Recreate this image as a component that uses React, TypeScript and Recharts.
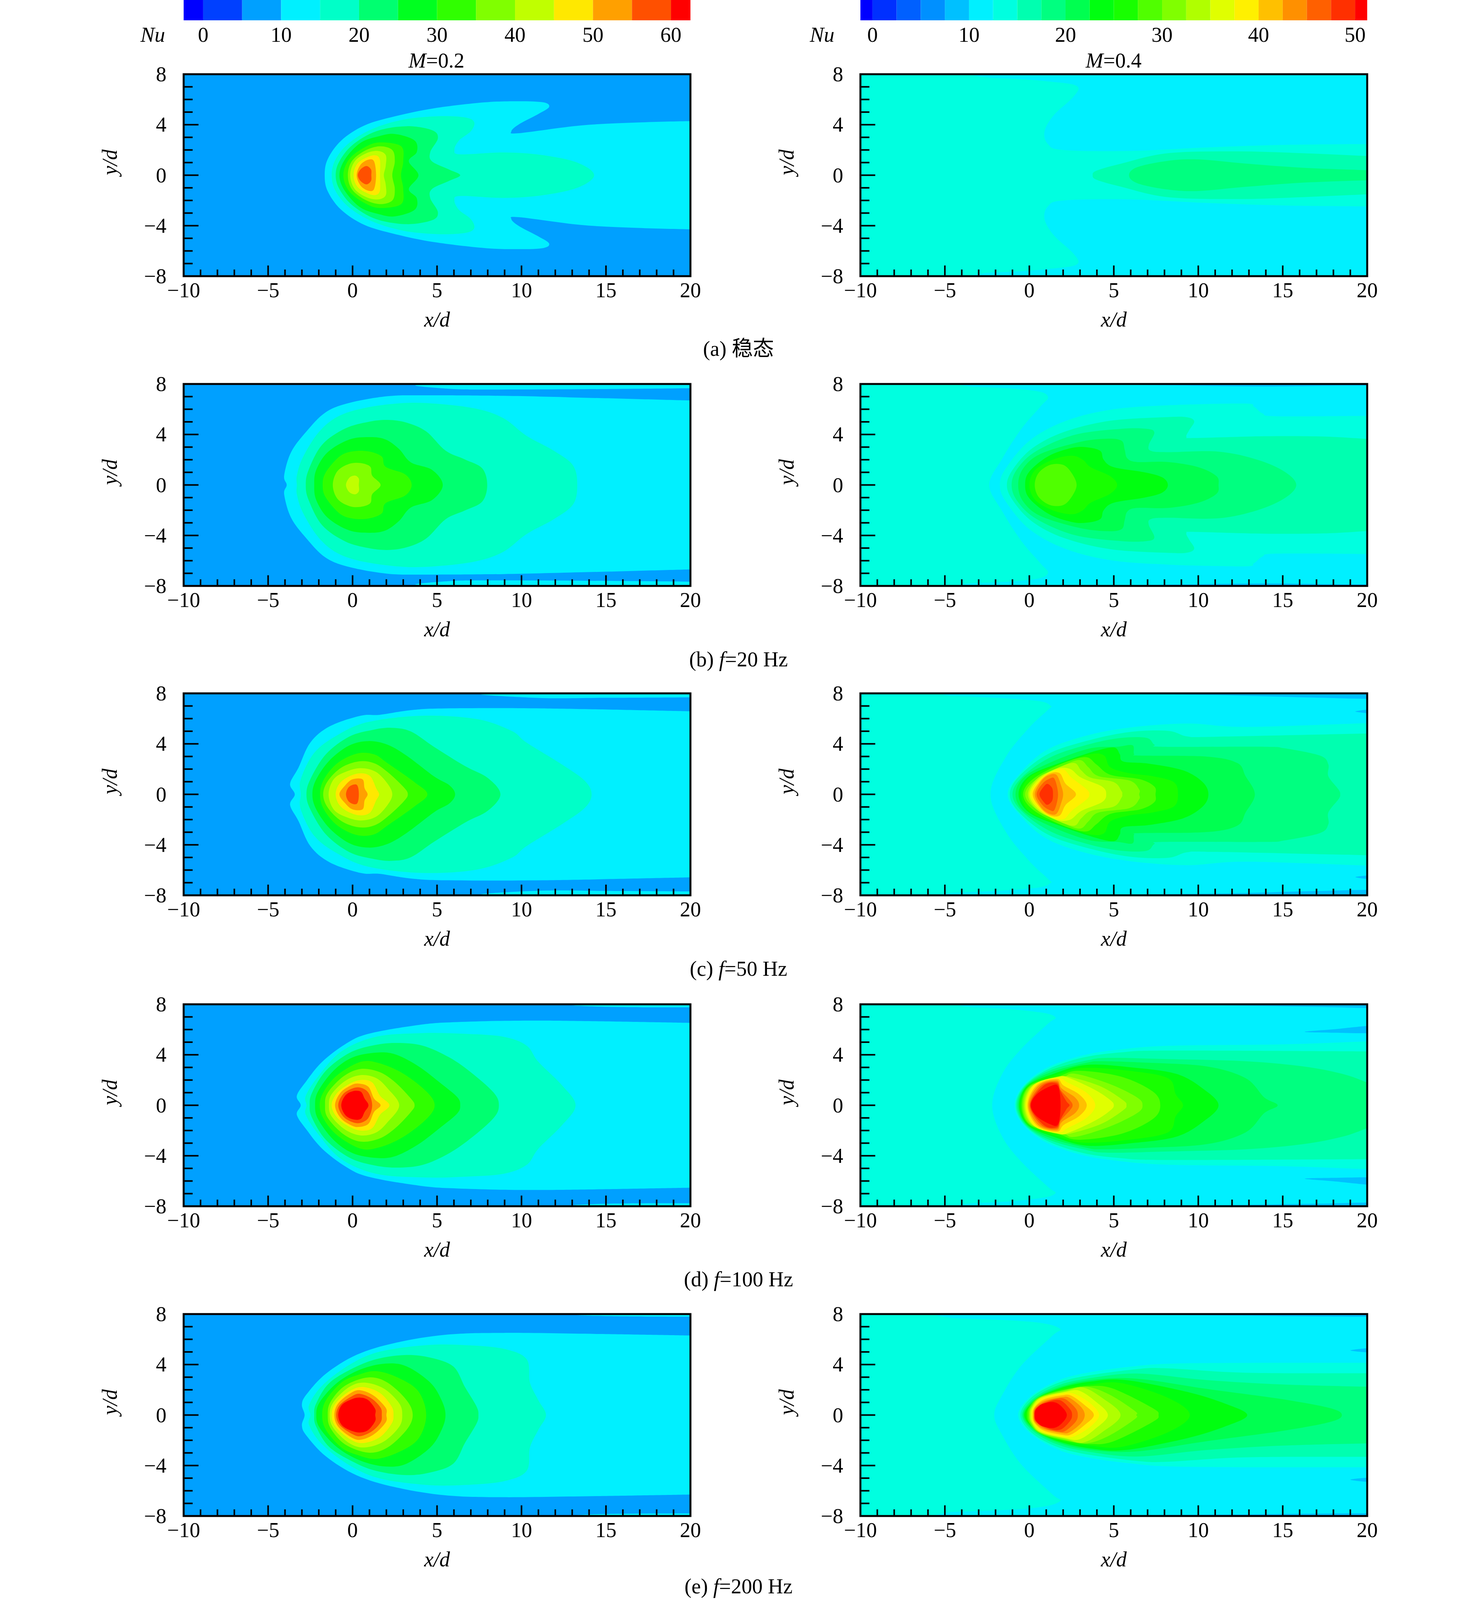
import React from 'react';
import { ScatterChart, Scatter, XAxis, YAxis, ReferenceArea, Label } from 'recharts';

type Pt = [number, number];
// band = index into the colour scale, upper = outline above y=0 (mirrored below), twin = separate pair of patches
interface Layer { band: number; upper: Pt[]; twin?: boolean }

const xTicks = [-10, -9, -8, -7, -6, -5, -4, -3, -2, -1, 0, 1, 2, 3, 4, 5, 6, 7, 8, 9, 10, 11, 12, 13, 14, 15, 16, 17, 18, 19, 20];
const yTicks = [-8, -7, -6, -5, -4, -3, -2, -1, 0, 1, 2, 3, 4, 5, 6, 7, 8];

const scaleLowEdges = [-2.5, 0, 5, 10, 15, 20, 25, 30, 35, 40, 45, 50, 55, 60, 62.5];
const scaleLowColors = ['#0000ff', '#0040ff', '#00a0ff', '#00f0ff', '#00ffc8', '#00ff70', '#00ff20', '#30ff00', '#80ff00', '#c0ff00', '#ffe800', '#ffa000', '#ff5000', '#ff0000'];
const scaleLowTicks = [0, 10, 20, 30, 40, 50, 60];

const scaleHighEdges = [-1.25, 0, 2.5, 5, 7.5, 10, 12.5, 15, 17.5, 20, 22.5, 25, 27.5, 30, 32.5, 35, 37.5, 40, 42.5, 45, 47.5, 50, 51.25];
const scaleHighColors = ['#0000ff', '#0030ff', '#0060ff', '#0090ff', '#00c0ff', '#00f0ff', '#00ffe0', '#00ffb0', '#00ff80', '#00ff50', '#00ff10', '#18ff00', '#50ff00', '#80ff00', '#b0ff00', '#e0ff00', '#fff000', '#ffc000', '#ff9000', '#ff6000', '#ff3000', '#ff0000'];
const scaleHighTicks = [0, 10, 20, 30, 40, 50];

const wholeField: Pt[] = [[-30, 30], [50, 30]];

const steadyLow: Layer[] = [
  { band: 2, upper: wholeField },
  { band: 3, upper: [[-1.65, 0], [-1.47, 1.28], [-0.67, 2.75], [0.7, 3.94], [2.53, 4.67], [4.82, 5.3], [7.8, 5.77], [9.85, 5.86], [11.3, 5.77], [11.63, 5.4], [11, 4.85], [9.85, 4.03], [9.4, 3.48], [9.85, 3.33], [13.5, 3.94], [16.9, 4.18], [20, 4.29], [21, 4.3]] },
  { band: 4, upper: [[-1.24, 0], [-1, 1.28], [-0.2, 2.56], [1.16, 3.66], [3, 4.4], [5.05, 4.67], [6.65, 4.58], [7.2, 4.2], [7, 3.48], [6.3, 2.75], [6.03, 2], [6.4, 1.65], [8.93, 1.8], [11.2, 1.6], [13.3, 1], [14.3, 0]] },
  { band: 5, upper: [[-1, 0], [-0.78, 1.1], [0, 2.4], [1.4, 3.48], [3.2, 3.88], [4.7, 3.57], [5.05, 2.93], [4.6, 1.83], [4.7, 1.1], [5.7, 0.46], [6.37, 0]] },
  { band: 6, upper: [[-0.78, 0], [-0.44, 1.28], [0.47, 2.56], [1.6, 3.1], [2.53, 3.26], [3.67, 2.75], [3.8, 1.83], [3.33, 1.1], [3.9, 0]] },
  { band: 7, upper: [[-0.55, 0], [-0.2, 1.28], [0.7, 2.2], [1.6, 2.6], [2.87, 2.3], [3, 1.1], [2.87, 0]] },
  { band: 8, upper: [[-0.28, 0], [-0.05, 1.1], [0.7, 1.92], [1.6, 2.29], [2.35, 2], [2.5, 1.1], [2.35, 0]] },
  { band: 9, upper: [[-0.14, 0], [0.13, 1.1], [0.82, 1.74], [1.5, 1.92], [1.96, 1.6], [1.96, 0.73], [1.85, 0]] },
  { band: 10, upper: [[0.06, 0], [0.29, 0.92], [0.93, 1.46], [1.39, 1.56], [1.62, 1.19], [1.62, 0]] },
  { band: 11, upper: [[0.24, 0], [0.47, 0.82], [0.93, 1.23], [1.27, 1.1], [1.39, 0]] },
  { band: 12, upper: [[0.31, 0], [0.47, 0.46], [0.82, 0.73], [1.09, 0.46], [1.11, 0]] },
];

const steadyHigh: Layer[] = [
  { band: 5, upper: wholeField },
  { band: 6, upper: [[-11, 7.9], [-2.1, 7.7], [1.35, 7.4], [2.83, 7.05], [2.6, 6.2], [1.45, 4.76], [0.9, 3.48], [1.1, 2.47], [2, 2], [5.9, 1.92], [10.5, 2.2], [15, 2.4], [20, 2.47], [21, 2.47]] },
  { band: 7, upper: [[3.75, 0], [4, 0.37], [5.45, 0.92], [8.2, 1.74], [12.3, 1.89], [16.2, 1.74], [20, 1.52], [21, 1.5]] },
  { band: 8, upper: [[5.9, 0], [6.4, 0.64], [8.2, 1.14], [10, 1.25], [12.8, 0.92], [16.2, 0.59], [20, 0.4], [21, 0.38]] },
];

const pulse20Low: Layer[] = [
  { band: 2, upper: wholeField },
  { band: 3, twin: true, upper: [[3.9, 7.92], [5.5, 7.64], [7.8, 7.56], [15, 7.6], [21, 7.7], [21, 7.92], [10, 7.94]] },
  { band: 3, upper: [[-3.9, 0], [-4.05, 0.74], [-3.64, 2.6], [-2.73, 4.24], [-1.6, 5.75], [-0.2, 6.5], [2.07, 7.03], [4.36, 7.1], [8.93, 7.06], [13.5, 6.92], [20, 6.69], [21, 6.68]] },
  { band: 4, upper: [[-3.3, 0], [-3.3, 0.74], [-2.96, 2.14], [-2.04, 4.12], [-0.9, 5.4], [0.7, 6.1], [3, 6.49], [5.05, 6.43], [7.33, 6.04], [8.93, 5.29], [10.3, 3.89], [11.9, 2.72], [13.05, 1.55], [13.3, 0]] },
  { band: 5, upper: [[-2.77, 0], [-2.6, 1.2], [-1.8, 3.19], [-0.44, 4.47], [0.94, 5], [2.07, 5.15], [3.2, 4.94], [4.36, 4.24], [5.5, 2.72], [6.65, 2.02], [7.67, 1.32], [7.97, 0]] },
  { band: 6, upper: [[-2.27, 0], [-2.15, 1.2], [-1.47, 2.6], [-0.2, 3.6], [1.05, 3.79], [1.96, 3.6], [2.76, 2.84], [3.45, 1.79], [4.7, 1.2], [5.34, 0]] },
  { band: 7, upper: [[-1.77, 0], [-1.6, 0.97], [-0.78, 2.25], [0, 2.66], [0.94, 2.66], [1.73, 2.25], [1.96, 1.44], [3.1, 0.85], [3.5, 0]] },
  { band: 8, upper: [[-1.17, 0], [-0.9, 1.09], [-0.2, 1.67], [0.48, 1.73], [1.05, 1.44], [1.16, 0.74], [1.66, 0]] },
  { band: 9, upper: [[-0.39, 0], [-0.2, 0.56], [0.14, 0.74], [0.37, 0.5], [0.37, 0]] },
];

const pulse20High: Layer[] = [
  { band: 5, upper: wholeField },
  { band: 4, twin: true, upper: [[6, 7.96], [10, 7.86], [14, 7.8], [18, 7.86], [21, 7.9], [21, 8.2], [6, 8.2]] },
  { band: 6, upper: [[-11, 7.95], [-3.2, 7.77], [0.2, 7.48], [1.1, 7], [0.65, 6.2], [-0.47, 4.45], [-1.6, 2.1], [-2.37, 0]] },
  { band: 6, upper: [[-1.74, 0], [-1.4, 1.3], [0, 3.5], [2.07, 5.03], [4.8, 5.96], [8.2, 6.31], [12.7, 6.45], [13.3, 6.2], [13.8, 5.67], [14.65, 5.44], [20, 5.47], [21, 5.47]] },
  { band: 7, upper: [[-1.33, 0], [-0.94, 1.3], [0.2, 2.93], [2.07, 4.21], [4.8, 5.09], [8.2, 5.38], [9.35, 5.36], [9.76, 5.03], [9.46, 4.33], [9.3, 3.8], [9.8, 3.72], [13.9, 3.86], [17.4, 3.84], [20, 3.65], [21, 3.6]] },
  { band: 8, upper: [[-1.05, 0], [-0.7, 1.3], [0.43, 2.7], [2.7, 3.98], [5.45, 4.45], [6.94, 4.45], [7.4, 4.15], [7.07, 3.16], [7.2, 2.7], [8.2, 2.6], [11.2, 2.64], [13.5, 2], [15.1, 1.06], [15.8, 0]] },
  { band: 9, upper: [[-0.66, 0], [-0.37, 1.3], [0.66, 2.46], [2.95, 3.4], [4.55, 3.66], [5.45, 3.51], [5.64, 2.81], [5.8, 2.11], [6.37, 1.82], [8.2, 1.82], [10, 1.41], [11.07, 0.71], [11.2, 0]] },
  { band: 10, upper: [[-0.25, 0], [0, 1.06], [1.14, 2.29], [2.5, 2.93], [3.4, 2.99], [4.2, 2.7], [4.4, 2], [5, 1.41], [6.83, 1], [7.87, 0.6], [8.2, 0]] },
  { band: 11, upper: [[0, 0], [0.34, 1.18], [1.37, 2], [2.5, 2.32], [3.17, 2], [3.63, 1.41], [4.77, 0.71], [5.2, 0]] },
  { band: 12, upper: [[0.32, 0], [0.55, 0.95], [1.23, 1.59], [2, 1.59], [2.5, 0.95], [2.8, 0]] },
];

const pulse50Low: Layer[] = [
  { band: 2, upper: wholeField },
  { band: 3, twin: true, upper: [[7.6, 7.92], [11.2, 7.63], [15, 7.65], [21, 7.72], [21, 7.92], [12, 7.94]] },
  { band: 3, upper: [[-3.42, 0], [-3.7, 0.84], [-3.2, 2.12], [-2.5, 4.1], [-1.35, 5.39], [0.48, 6.23], [1.6, 6.3], [3.45, 6.67], [5.5, 6.81], [11.2, 6.81], [20, 6.58], [21, 6.56]] },
  { band: 4, upper: [[-3.07, 0], [-3.07, 1.19], [-2.27, 3.29], [-0.9, 4.69], [0.94, 5.74], [4.13, 6.23], [7.33, 5.97], [9.4, 5.04], [10.3, 4.1], [12.4, 2.36], [13.75, 1.07], [14.15, 0]] },
  { band: 5, upper: [[-2.73, 0], [-2.5, 1.19], [-1.58, 3.17], [-0.2, 4.57], [1.17, 5.1], [2.3, 5.27], [3.45, 4.98], [4.82, 3.76], [6.65, 2.24], [8, 1.3], [8.75, 0]] },
  { band: 6, upper: [[-2.38, 0], [-2.15, 1.19], [-1.35, 2.71], [-0.2, 3.87], [0.94, 4.22], [2.07, 3.93], [3.2, 3.06], [4.82, 1.42], [5.73, 0.72], [6.07, 0]] },
  { band: 7, upper: [[-1.93, 0], [-1.7, 1.19], [-0.9, 2.47], [0.25, 3.23], [1.27, 3.17], [2.07, 2.47], [3.67, 0.96], [4.43, 0]] },
  { band: 8, upper: [[-1.74, 0], [-1.46, 1.07], [-0.66, 2.12], [0.36, 2.61], [1.27, 2.47], [2.07, 1.77], [3, 0.6], [3.27, 0]] },
  { band: 9, upper: [[-1.42, 0], [-1.12, 1.19], [-0.43, 1.77], [0.48, 2.07], [1.39, 1.77], [2.07, 0.84], [2.35, 0]] },
  { band: 10, upper: [[-1, 0], [-0.78, 0.84], [-0.2, 1.42], [0.48, 1.66], [1.05, 1.42], [1.39, 0.49], [1.57, 0]] },
  { band: 11, upper: [[-0.78, 0], [-0.43, 0.72], [0, 1.19], [0.59, 1.19], [0.71, 0.49], [0.89, 0]] },
  { band: 12, upper: [[-0.39, 0], [-0.2, 0.6], [0.25, 0.75], [0.37, 0]] },
];

const pulse50High: Layer[] = [
  { band: 5, upper: wholeField },
  { band: 4, twin: true, upper: [[6, 7.96], [12, 7.84], [17, 7.66], [21, 7.6], [21, 8.2], [6, 8.2]] },
  { band: 4, twin: true, upper: [[19.3, 6.55], [20.2, 6.7], [20.5, 6.4]] },
  { band: 6, upper: [[-11, 7.91], [-4.4, 7.79], [0.2, 7.44], [1.24, 7.04], [1.1, 6.69], [0, 5.29], [-1.4, 2.95], [-2.3, 0]] },
  { band: 6, upper: [[-1.28, 0], [-0.7, 1.44], [0.9, 3.42], [3.2, 4.59], [5.93, 5.29], [9.35, 5.61], [12.8, 5.34], [20, 5.64], [21, 5.66]] },
  { band: 7, upper: [[-1.16, 0], [-0.6, 1.44], [1.1, 3.19], [3.4, 4.24], [5.93, 4.94], [8.2, 5.03], [9.35, 4.59], [10.95, 4.56], [20, 4.82], [21, 4.84]] },
  { band: 8, upper: [[-1, 0], [-0.37, 1.44], [1.35, 3], [3.63, 4], [5.45, 4.47], [6.94, 4.47], [7.4, 3.94], [7.95, 3.77], [13.9, 3.77], [15.1, 3.65], [17.2, 3.07], [17.7, 2.37], [17.7, 1.44], [18.3, 0.39], [18.4, 0]] },
  { band: 9, upper: [[-0.82, 0], [-0.25, 1.44], [1.6, 2.72], [3.63, 3.65], [5.2, 3.77], [6.1, 3.89], [6.2, 3.19], [6.55, 3.07], [10.5, 2.99], [12.3, 2.49], [12.8, 1.44], [13.35, 0]] },
  { band: 10, upper: [[-0.64, 0], [-0.02, 1.44], [1.8, 2.49], [3.87, 3.42], [5, 3.71], [5.35, 3.19], [5.57, 2.6], [7.07, 2.43], [9.1, 1.9], [10.26, 0.97], [10.6, 0]] },
  { band: 11, upper: [[-0.48, 0], [0.09, 1.44], [2, 2.49], [3.63, 3.19], [4.43, 3.07], [4.8, 2.14], [5.93, 1.67], [7.3, 1.44], [8.55, 0.97], [8.8, 0]] },
  { band: 12, upper: [[-0.37, 0], [0.2, 1.2], [1.8, 2.37], [3.3, 2.95], [3.97, 2.37], [4.8, 1.55], [6.55, 1.2], [7.4, 0.62], [7.47, 0]] },
  { band: 13, upper: [[-0.25, 0], [0.32, 1.09], [1.8, 2.14], [2.95, 2.72], [3.5, 2.14], [4.1, 1.44], [5.93, 1.09], [6.5, 0.39], [6.5, 0]] },
  { band: 14, upper: [[-0.09, 0], [0.43, 1.2], [1.35, 1.9], [2.6, 2.49], [3.07, 1.9], [3.63, 1.32], [5, 0.97], [5.45, 0.27], [5.5, 0]] },
  { band: 15, upper: [[0, 0], [0.55, 1.2], [1.6, 2.02], [2.4, 2.02], [3.07, 1.32], [4.3, 0.62], [4.55, 0]] },
  { band: 16, upper: [[0.09, 0], [0.66, 1.2], [1.35, 1.79], [2.03, 1.96], [2.5, 1.32], [3.4, 0.39], [3.55, 0]] },
  { band: 17, upper: [[0.2, 0], [0.66, 1.09], [1.23, 1.67], [1.8, 1.67], [2.14, 0.85], [2.76, 0]] },
  { band: 18, upper: [[0.32, 0], [0.66, 0.97], [1.1, 1.49], [1.6, 1.55], [1.9, 0.62], [2, 0]] },
  { band: 19, upper: [[0.43, 0], [0.78, 0.85], [1.23, 1.26], [1.5, 1.2], [1.7, 0]] },
  { band: 20, upper: [[0.6, 0], [0.9, 0.68], [1.1, 0.82], [1.35, 0.5], [1.4, 0]] },
];

const pulse100Low: Layer[] = [
  { band: 2, upper: wholeField },
  { band: 3, twin: true, upper: [[13, 7.92], [15, 7.8], [18, 7.76], [21, 7.78], [21, 7.92], [16, 7.94]] },
  { band: 3, upper: [[-3.07, 0], [-3.3, 0.76], [-2.73, 1.93], [-1.8, 3.44], [-0.43, 4.84], [0.94, 5.66], [3.9, 6.36], [6.2, 6.59], [11.2, 6.71], [20, 6.53], [21, 6.5]] },
  { band: 4, upper: [[-2.73, 0], [-2.77, 0.76], [-2.04, 2.28], [-0.67, 4.26], [1.39, 5.43], [4.13, 5.72], [6.65, 5.66], [8.93, 5.43], [10.3, 4.73], [11, 3.44], [12.4, 1.58], [13.2, 0]] },
  { band: 5, upper: [[-2.54, 0], [-2.4, 0.99], [-1.58, 2.74], [-0.2, 4.14], [1.16, 4.73], [2.53, 4.94], [4.13, 4.73], [5.73, 3.79], [7.1, 2.51], [8.36, 0.99], [8.66, 0]] },
  { band: 6, upper: [[-2.22, 0], [-2.04, 1.11], [-1.13, 2.74], [0, 3.79], [1.39, 4.17], [2.53, 4.03], [3.9, 3.09], [5.27, 1.69], [6.2, 0.64], [6.37, 0]] },
  { band: 7, upper: [[-1.95, 0], [-1.7, 1.11], [-0.9, 2.39], [0.48, 3.44], [1.6, 3.33], [3, 2.51], [4.36, 1.11], [4.86, 0]] },
  { band: 8, upper: [[-1.63, 0], [-1.47, 0.99], [-0.55, 2.28], [0.48, 2.88], [1.6, 2.63], [2.53, 1.81], [3.45, 0.53], [3.67, 0]] },
  { band: 9, upper: [[-1.4, 0], [-1.24, 0.88], [-0.44, 1.93], [0.48, 2.39], [1.39, 2.16], [2.07, 1.34], [2.76, 0]] },
  { band: 10, upper: [[-1.24, 0], [-0.9, 0.99], [-0.2, 1.69], [0.48, 2], [1.16, 1.81], [1.62, 0.76], [2.18, 0]] },
  { band: 11, upper: [[-1.04, 0], [-0.72, 0.99], [-0.1, 1.58], [0.36, 1.72], [0.94, 1.46], [1.27, 0.53], [1.66, 0]] },
  { band: 12, upper: [[-0.85, 0], [-0.56, 0.88], [0, 1.34], [0.48, 1.39], [0.94, 0.99], [1.16, 0]] },
  { band: 13, upper: [[-0.67, 0], [-0.44, 0.76], [0, 1.11], [0.48, 1.08], [0.71, 0.53], [0.94, 0]] },
];

const pulse100High: Layer[] = [
  { band: 5, upper: wholeField },
  { band: 4, twin: true, upper: [[6, 7.96], [12, 7.9], [17, 7.8], [21, 7.72], [21, 8.2], [6, 8.2]] },
  { band: 4, twin: true, upper: [[16.3, 5.82], [18, 6.02], [20.5, 6.3], [20.5, 5.75], [18, 5.75]] },
  { band: 6, upper: [[-11, 7.86], [-3.2, 7.75], [0.43, 7.4], [1.53, 6.99], [1.1, 6.46], [-0.47, 4.48], [-1.6, 2.5], [-2.2, 0]] },
  { band: 6, upper: [[-0.87, 0], [-0.35, 1.56], [1, 2.95], [2.95, 3.88], [5, 4.36], [8.2, 4.71], [15, 4.83], [20, 5.06], [21, 5.08]] },
  { band: 7, upper: [[-0.8, 0], [-0.28, 1.56], [1.1, 2.85], [3.17, 3.78], [5.45, 4.19], [8.2, 4.33], [20, 4.27], [21, 4.27]] },
  { band: 8, upper: [[-0.73, 0], [-0.22, 1.56], [1.2, 2.75], [3.4, 3.55], [4.77, 3.76], [8.2, 3.66], [12.8, 3.49], [16.2, 3.08], [18.5, 2.5], [20, 1.8], [21, 1.2]] },
  { band: 9, upper: [[-0.66, 0], [-0.16, 1.56], [1.3, 2.63], [3.4, 3.37], [4.3, 3.49], [7, 3.37], [10.5, 3.08], [12.8, 2.15], [13.9, 0.63], [14.7, 0]] },
  { band: 10, upper: [[-0.6, 0], [-0.1, 1.56], [1.45, 2.5], [3.4, 3.2], [5.93, 3.02], [8.67, 2.5], [10.26, 1.33], [11.2, 0]] },
  { band: 11, upper: [[-0.53, 0], [-0.04, 1.56], [1.6, 2.4], [3.17, 2.96], [5.93, 2.73], [8.2, 2.15], [8.67, 0.86], [9.1, 0]] },
  { band: 12, upper: [[-0.46, 0], [0.03, 1.56], [1.75, 2.3], [2.95, 2.73], [5.45, 2.26], [7.3, 1.1], [7.75, 0]] },
  { band: 13, upper: [[-0.39, 0], [0.1, 1.56], [1.9, 2.15], [2.7, 2.5], [4.77, 1.68], [6.37, 0.63], [6.7, 0]] },
  { band: 14, upper: [[-0.32, 0], [0.18, 1.56], [1.8, 2.26], [2.7, 2.15], [4.3, 1.45], [5.55, 0.4], [5.75, 0]] },
  { band: 15, upper: [[-0.25, 0], [0.26, 1.62], [1.7, 2.26], [2.37, 2.15], [3.9, 1.21], [4.8, 0.4], [5, 0]] },
  { band: 16, upper: [[-0.18, 0], [0.34, 1.66], [1.7, 2.15], [2.27, 1.8], [3.4, 0.98], [3.9, 0]] },
  { band: 17, upper: [[-0.11, 0], [0.45, 1.6], [1.62, 2.09], [2.03, 1.56], [2.95, 0.86], [3.4, 0]] },
  { band: 18, upper: [[-0.05, 0], [0.55, 1.58], [1.62, 1.97], [1.92, 1.33], [2.7, 0.63], [2.95, 0]] },
  { band: 19, upper: [[0.02, 0], [0.7, 1.56], [1.62, 1.86], [1.85, 1.21], [2.4, 0.4], [2.56, 0]] },
  { band: 20, upper: [[0.05, 0], [0.85, 1.56], [1.62, 1.74], [1.85, 1.1], [2.2, 0.3], [2.38, 0]] },
  { band: 21, upper: [[0.09, 0], [0.43, 0.86], [1.23, 1.5], [1.7, 1.5], [1.85, 0]] },
];

const pulse200Low: Layer[] = [
  { band: 2, upper: wholeField },
  { band: 3, twin: true, upper: [[13.3, 7.92], [15, 7.84], [18, 7.8], [21, 7.8], [21, 7.92], [16, 7.94]] },
  { band: 3, upper: [[-2.84, 0], [-3, 0.82], [-2.73, 1.63], [-1.58, 3.27], [0.25, 4.78], [2.53, 5.72], [5.5, 6.36], [8.93, 6.51], [14.65, 6.42], [20, 6.3], [21, 6.28]] },
  { band: 4, upper: [[-2.5, 0], [-2.57, 0.82], [-1.8, 2.33], [-0.2, 3.97], [1.6, 5.02], [4.36, 5.54], [6.65, 5.54], [8.93, 5.25], [10.3, 4.43], [10.5, 2.57], [11, 1.17], [11.45, 0]] },
  { band: 5, upper: [[-2.27, 0], [-2.15, 0.93], [-1.35, 2.57], [0.25, 3.85], [1.6, 4.49], [3.2, 4.76], [4.6, 4.55], [5.96, 3.85], [6.65, 2.22], [7.33, 0.7], [7.45, 0]] },
  { band: 6, upper: [[-2.15, 0], [-1.93, 1.05], [-0.9, 2.57], [0.48, 3.62], [1.96, 4.08], [3.2, 3.85], [4.6, 2.57], [5.27, 1.17], [5.5, 0]] },
  { band: 7, upper: [[-1.8, 0], [-1.58, 1.17], [-0.67, 2.57], [0.25, 3.15], [1.39, 3.48], [2.76, 2.92], [3.9, 1.87], [4.36, 0]] },
  { band: 8, upper: [[-1.47, 0], [-1.3, 1.05], [-0.44, 2.33], [0.94, 2.98], [2.07, 2.57], [3.2, 1.17], [3.56, 0]] },
  { band: 9, upper: [[-1.36, 0], [-1.12, 1.05], [-0.2, 2.22], [0.71, 2.57], [1.85, 2.1], [2.76, 0.93], [2.94, 0]] },
  { band: 10, upper: [[-1.24, 0], [-1, 0.93], [-0.2, 1.87], [0.6, 2.22], [1.62, 1.75], [2.3, 0.7], [2.42, 0]] },
  { band: 11, upper: [[-1.08, 0], [-0.85, 0.93], [-0.1, 1.75], [0.48, 1.96], [1.27, 1.52], [1.96, 0.58], [2, 0]] },
  { band: 12, upper: [[-0.97, 0], [-0.74, 0.82], [0, 1.52], [0.48, 1.67], [1.16, 1.28], [1.66, 0.58], [1.73, 0]] },
  { band: 13, upper: [[-0.85, 0], [-0.62, 0.82], [0, 1.28], [0.48, 1.38], [0.94, 1.17], [1.34, 0.47], [1.34, 0]] },
];

const pulse200High: Layer[] = [
  { band: 5, upper: wholeField },
  { band: 4, twin: true, upper: [[6, 7.96], [12, 7.88], [21, 7.8], [21, 8.2], [6, 8.2]] },
  { band: 4, twin: true, upper: [[19, 5.12], [20.5, 5.32], [20.5, 4.95]] },
  { band: 6, upper: [[-11, 7.84], [-4.4, 7.67], [0.2, 7.37], [1.8, 6.85], [1.35, 6.27], [-0.47, 3.93], [-1.6, 1.6], [-2.08, 0]] },
  { band: 6, upper: [[-0.66, 0], [-0.02, 1.36], [1.35, 2.53], [2.95, 3.23], [5.93, 3.82], [9.35, 4.1], [20, 4.14], [21, 4.14]] },
  { band: 7, upper: [[-0.53, 0], [0.1, 1.36], [1.46, 2.42], [3.17, 3.06], [6.37, 3.64], [8.2, 3.7], [12.8, 3.35], [20, 3.31], [21, 3.3]] },
  { band: 8, upper: [[-0.43, 0], [0.2, 1.25], [1.6, 2.3], [3.4, 2.88], [6.37, 3.29], [10.5, 2.77], [15, 2.42], [20, 2.24], [21, 2.2]] },
  { band: 9, upper: [[-0.37, 0], [0.32, 1.25], [1.7, 2.18], [3.63, 2.77], [6.37, 2.88], [10.5, 2.07], [15, 1.25], [17.8, 0.55], [18.5, 0]] },
  { band: 10, upper: [[-0.3, 0], [0.43, 1.25], [1.8, 2.12], [3.63, 2.65], [5.7, 2.77], [9.35, 1.83], [11.6, 0.9], [12.9, 0]] },
  { band: 11, upper: [[-0.2, 0], [0.5, 1.35], [1.92, 2.07], [3.63, 2.42], [5.45, 2.53], [8.2, 1.37], [9.5, 0]] },
  { band: 12, upper: [[-0.11, 0], [0, 0.6], [0.58, 1.42], [2.03, 2], [3.63, 2.3], [5, 2.07], [7.3, 0.55], [7.65, 0]] },
  { band: 13, upper: [[-0.02, 0], [0.08, 0.6], [0.62, 1.4], [2.03, 1.95], [3.4, 2.24], [4.77, 1.6], [6.25, 0.32], [6.33, 0]] },
  { band: 14, upper: [[0.02, 0], [0.12, 0.6], [0.66, 1.38], [2.14, 1.89], [3.17, 2.18], [4.3, 1.37], [5.4, 0]] },
  { band: 15, upper: [[0.09, 0], [0.18, 0.6], [0.7, 1.37], [2.14, 1.83], [2.95, 1.93], [3.87, 1.13], [4.65, 0]] },
  { band: 16, upper: [[0.16, 0], [0.25, 0.6], [0.78, 1.32], [2.03, 1.72], [2.7, 1.66], [3.63, 0.9], [4.13, 0]] },
  { band: 17, upper: [[0.2, 0], [0.3, 0.6], [0.85, 1.22], [1.92, 1.56], [2.48, 1.54], [3.28, 0.78], [3.82, 0]] },
  { band: 18, upper: [[0.25, 0], [0.35, 0.6], [0.9, 1.12], [1.92, 1.42], [2.37, 1.37], [3.05, 0.66], [3.28, 0]] },
  { band: 19, upper: [[0.28, 0], [0.38, 0.55], [0.95, 1.05], [1.7, 1.31], [2.14, 1.25], [2.73, 0.55], [2.87, 0]] },
  { band: 20, upper: [[0.3, 0], [0.4, 0.5], [1, 0.98], [1.57, 1.19], [1.97, 1.07], [2.43, 0.43], [2.53, 0]] },
  { band: 21, upper: [[0.32, 0], [0.42, 0.5], [0.8, 0.9], [1.46, 1.02], [1.92, 0.66], [2.22, 0]] },
];

const rowTops = [257, 1329, 2400, 3476, 4548];
const rowLow = [steadyLow, pulse20Low, pulse50Low, pulse100Low, pulse200Low];
const rowHigh = [steadyHigh, pulse20High, pulse50High, pulse100High, pulse200High];
const rowCaptionTops = [1207, 2282, 3353, 4427, 5490];

const FONT = '"Liberation Serif", "Noto Sans CJK SC", serif';
const FULL_H = 5537;
// the sandbox window can be shorter than the page, so vertical layout follows the window
const FIT = Math.min(1, window.innerHeight / FULL_H);
const FS = Math.round(63 * Math.sqrt(FIT));
const LEFT_X = 470;
const RIGHT_X = 2202;
const PLOT_W = 1297;
const PLOT_H = Math.round(699 * FIT);
const BELOW = 200;
const Y_LABEL_GAP = FIT < 1 ? 44 : 27;

const NoPoint = () => <g />;

// closed Catmull-Rom through the pixel points that the Scatter scaled for us
const fillOutline = (props: any) => {
  const pts: { x: number; y: number }[] = props.points;
  const n = pts.length;
  let d = `M${pts[0].x},${pts[0].y}`;
  for (let i = 0; i < n; i++) {
    const p0 = pts[(i - 1 + n) % n];
    const p1 = pts[i];
    const p2 = pts[(i + 1) % n];
    const p3 = pts[(i + 2) % n];
    d += `C${p1.x + (p2.x - p0.x) / 6},${p1.y + (p2.y - p0.y) / 6} ${p2.x - (p3.x - p1.x) / 6},${p2.y - (p3.y - p1.y) / 6} ${p2.x},${p2.y}`;
  }
  return <path d={d + 'Z'} fill={props.stroke} stroke="none" />;
};

const fillBand = (props: any) => {
  const d = props.points.map((p: any, i: number) => `${i ? 'L' : 'M'}${p.x},${p.y}`).join('') + 'Z';
  return <path d={d} fill={props.stroke} stroke="none" />;
};

const toRows = (pts: Pt[]) => pts.map(([x, y]) => ({ x, y }));

const closeOutline = (upper: Pt[]): Pt[] => {
  const lower = upper.filter((p) => p[1] !== 0).reverse().map((p): Pt => [p[0], -p[1]]);
  return [...upper, ...lower];
};

const layerShapes = (layer: Layer): Pt[][] =>
  layer.twin ? [layer.upper, layer.upper.map((p): Pt => [p[0], -p[1]])] : [closeOutline(layer.upper)];

const XTick = ({ x, y, payload }: any) => {
  const major = payload.value % 5 === 0;
  return (
    <g>
      <line x1={x} x2={x} y1={y} y2={y - (major ? 37 : 23) * FIT} stroke="#000" strokeWidth={4} />
      {major && (
        <text x={x} y={y + 49 * FIT + FS / 3} textAnchor="middle" fontSize={FS} fontFamily={FONT} fill="#000">
          {String(payload.value).replace('-', '\u2212')}
        </text>
      )}
    </g>
  );
};

const YTick = ({ x, y, payload }: any) => {
  const major = payload.value % 4 === 0;
  return (
    <g>
      <line x1={x} x2={x + (major ? 38 : 23)} y1={y} y2={y} stroke="#000" strokeWidth={4} />
      {major && (
        <text x={x - Y_LABEL_GAP} y={y + FS / 3} textAnchor="end" fontSize={FS} fontFamily={FONT} fill="#000">
          {String(payload.value).replace('-', '\u2212')}
        </text>
      )}
    </g>
  );
};

const ScaleTick = ({ x, y, payload }: any) => (
  <text x={x} y={y + 50 * FIT + FS / 3} textAnchor="middle" fontSize={FS} fontFamily={FONT} fill="#000">
    {payload.value}
  </text>
);

const ContourPanel = ({ left, top, layers, colors }: { left: number; top: number; layers: Layer[]; colors: string[] }) => (
  <div style={{ position: 'absolute', left: left - 250, top: Math.round(top * FIT) - 40 }}>
    <ScatterChart width={250 + PLOT_W + 60} height={40 + PLOT_H + BELOW} margin={{ top: 40, right: 60, bottom: 0, left: 0 }}>
      <XAxis type="number" dataKey="x" domain={[-10, 20]} ticks={xTicks} interval={0} allowDataOverflow height={BELOW} axisLine={false} tickLine={false} tickSize={0} tickMargin={0} tick={<XTick />}>
        <Label value="x/d" position="insideBottom" offset={182 - 150 * FIT} fontSize={FS} fontStyle="italic" fontFamily={FONT} fill="#000" />
      </XAxis>
      <YAxis type="number" dataKey="y" domain={[-8, 8]} ticks={yTicks} interval={0} allowDataOverflow width={250} axisLine={false} tickLine={false} tickSize={0} tickMargin={0} tick={<YTick />}>
        <Label value="y/d" angle={-90} position="insideLeft" offset={60} fontSize={FS} fontStyle="italic" fontFamily={FONT} fill="#000" />
      </YAxis>
      {layers.flatMap((layer, i) =>
        layerShapes(layer).map((shape, j) => (
          <Scatter key={`${i}-${j}`} data={toRows(shape)} fill={colors[layer.band]} line={fillOutline} shape={NoPoint} isAnimationActive={false} zIndex={50} />
        ))
      )}
      <ReferenceArea x1={-10} x2={20} y1={-8} y2={8} fill="none" stroke="#000" strokeWidth={5} ifOverflow="visible" zIndex={900} />
    </ScatterChart>
  </div>
);

const ColorScale = ({ left, edges, colors, ticks }: { left: number; edges: number[]; colors: string[]; ticks: number[] }) => (
  <div style={{ position: 'absolute', left, top: 0 }}>
    <ScatterChart width={PLOT_W} height={Math.round(70 * FIT) + 100} margin={{ top: 0, right: 0, bottom: 0, left: 0 }}>
      <XAxis type="number" dataKey="x" domain={[edges[0], edges[edges.length - 1]]} ticks={ticks} interval={0} allowDataOverflow height={100} axisLine={false} tickLine={false} tickSize={0} tickMargin={0} tick={<ScaleTick />} />
      <YAxis type="number" dataKey="y" domain={[0, 1]} hide />
      {colors.map((c, i) => (
        <Scatter key={c} data={[{ x: edges[i], y: 0 }, { x: edges[i + 1], y: 0 }, { x: edges[i + 1], y: 1 }, { x: edges[i], y: 1 }]} fill={c} line={fillBand} shape={NoPoint} isAnimationActive={false} />
      ))}
    </ScatterChart>
  </div>
);

const textStyle = (left: number, top: number): React.CSSProperties => ({
  position: 'absolute',
  left,
  top: Math.round(top * FIT) - 30,
  height: 60,
  lineHeight: '60px',
  fontFamily: FONT,
  fontSize: FS,
  color: '#000',
  whiteSpace: 'nowrap',
  transform: 'translateX(-50%)',
});

const captions: React.ReactNode[] = [
  <>(a) 稳态</>,
  <>(b) <i>f</i>=20 Hz</>,
  <>(c) <i>f</i>=50 Hz</>,
  <>(d) <i>f</i>=100 Hz</>,
  <>(e) <i>f</i>=200 Hz</>,
];

export default function App() {
  return (
    <div style={{ position: 'absolute', left: 0, top: 0, width: 3780, height: Math.round(FULL_H * FIT), background: '#fff', overflow: 'hidden' }}>
      <ColorScale left={LEFT_X} edges={scaleLowEdges} colors={scaleLowColors} ticks={scaleLowTicks} />
      <ColorScale left={RIGHT_X} edges={scaleHighEdges} colors={scaleHighColors} ticks={scaleHighTicks} />
      <div style={textStyle(391, 120)}><i>Nu</i></div>
      <div style={textStyle(2104, 120)}><i>Nu</i></div>
      <div style={textStyle(1117, 210)}><i>M</i>=0.2</div>
      <div style={textStyle(2850, 210)}><i>M</i>=0.4</div>
      {rowTops.map((top, i) => (
        <React.Fragment key={top}>
          <ContourPanel left={LEFT_X} top={top} layers={rowLow[i]} colors={scaleLowColors} />
          <ContourPanel left={RIGHT_X} top={top} layers={rowHigh[i]} colors={scaleHighColors} />
          <div style={textStyle(1890, rowCaptionTops[i])}>{captions[i]}</div>
        </React.Fragment>
      ))}
    </div>
  );
}
